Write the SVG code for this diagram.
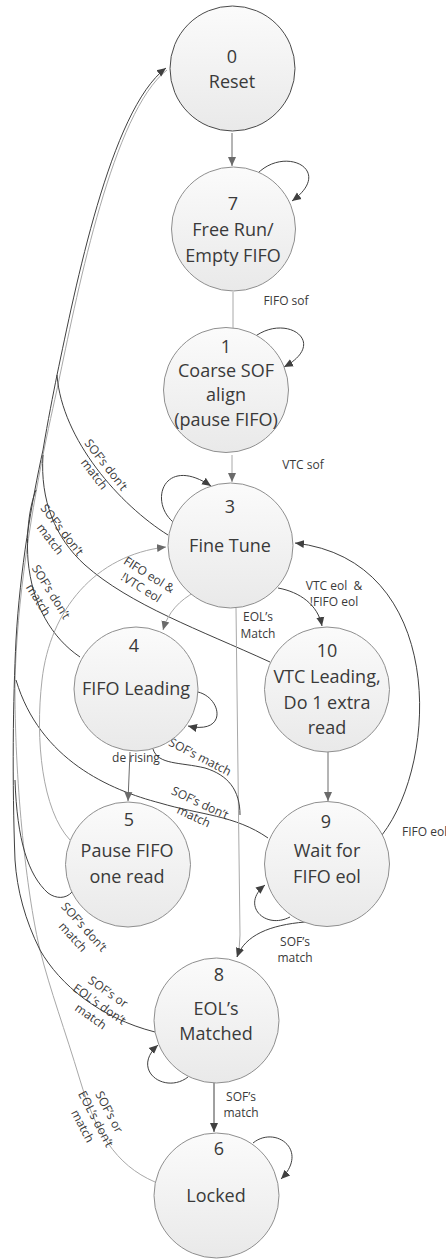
<svg xmlns="http://www.w3.org/2000/svg" width="446" height="1259" viewBox="0 0 446 1259">
<defs>
<linearGradient id="nodeFill" x1="0" y1="0" x2="0" y2="1">
<stop offset="0" stop-color="#fbfbfb"/>
<stop offset="1" stop-color="#e9e9e9"/>
</linearGradient>
<marker id="arr" markerWidth="10" markerHeight="10" refX="9" refY="5" orient="auto" markerUnits="userSpaceOnUse">
<path d="M0,1 L9,5 L0,9 Z" fill="#404040"/>
</marker>
<marker id="arrL" markerWidth="10" markerHeight="10" refX="9" refY="5" orient="auto" markerUnits="userSpaceOnUse">
<path d="M0,1 L9,5 L0,9 Z" fill="#6a6a6a"/>
</marker>
<style>
.node circle{fill:url(#nodeFill);stroke:#8f8f8f;stroke-width:1}
#n0 circle{stroke:#4a4a4a}
.nt{font-family:"Open Sans","Liberation Sans",sans-serif;font-size:18px;fill:#3a3a3a;text-anchor:middle}
.lb{font-family:"Open Sans","Liberation Sans",sans-serif;font-size:12px;fill:#3a3a3a;text-anchor:middle}
.d{fill:none;stroke:#404040;stroke-width:1}
.l{fill:none;stroke:#a8a8a8;stroke-width:1}
.m{fill:none;stroke:#6a6a6a;stroke-width:1}
</style>
</defs>

<g id="connectors">
<!-- light long curve from node 6 to node 0 -->
<path class="l" d="M155,1182 C115,1165 95,1130 80,1080 C65,1030 50,990 40,950 C28,900 16,800 15,700 C14,620 30,520 44,450 C50,420 56,395 60,375 C78,290 113,112 167,70"/>
<!-- dark trunk to node 0 -->
<path class="d" d="M15,860 C12,780 13,700 16,640 C20,570 32,500 43,450 C48,420 53,395 57,375 C75,290 110,110 166,68" marker-end="url(#arr)"/>
<!-- 3 -> 0 -->
<path class="d" d="M168,535 C120,505 62,440 57,375"/>
<!-- 10 -> 0 -->
<path class="d" d="M270,662 C200,630 130,605 85,565 C55,538 40,500 43,455"/>
<!-- 4 -> 0 -->
<path class="d" d="M80,657 C52,638 32,605 28,560 C26,530 30,505 36,490"/>
<!-- 9 -> 0 -->
<path class="d" d="M268,838 C235,815 200,815 160,803 C110,790 40,760 16,680"/>
<!-- 5 -> 0 -->
<path class="d" d="M72,892 C66,899 56,899 48,893 C28,875 17,840 15,780"/>
<!-- 8 -> 0 -->
<path class="d" d="M155,1032 C100,1018 60,985 40,950 C25,920 17,890 15,860"/>
<!-- 5 -> 3 -->
<path class="l" d="M70,840 C42,810 35,740 42,680 C50,610 95,555 166,547" marker-end="url(#arrL)"/>
<!-- 0 -> 7 -->
<path class="m" d="M232,133 L232,166" marker-end="url(#arrL)"/>
<!-- 7 self -->
<path class="d" d="M257,174 C285,145 335,170 292,201" marker-end="url(#arr)"/>
<!-- 7 -> 1 -->
<path class="l" d="M233,292 L233,332"/>
<!-- 1 self -->
<path class="d" d="M253,338 C285,312 330,342 284,367" marker-end="url(#arr)"/>
<!-- 1 -> 3 -->
<path class="l" d="M232,455 L232,482" marker-end="url(#arrL)"/>
<!-- 3 self -->
<path class="d" d="M173,522 C148,500 165,455 211,486" marker-end="url(#arr)"/>
<!-- 3 -> 4 -->
<path class="l" d="M195,592 C180,600 168,612 163,630" marker-end="url(#arrL)"/>
<!-- 3 -> 10 -->
<path class="d" d="M278,588 C300,592 318,605 322,626" marker-end="url(#arr)"/>
<!-- 3 -> 8 EOL's Match -->
<path class="l" d="M236,608 L240,935 Q240,948 237,957" marker-end="url(#arrL)"/>
<!-- 4 self -->
<path class="d" d="M198,692 C222,698 228,735 188,726" marker-end="url(#arr)"/>
<!-- 4 -> 5 -->
<path class="m" d="M130,752 L128,801" marker-end="url(#arrL)"/>
<!-- 4 -> 8 SOF's match -->
<path class="d" d="M153,749 C158,765 180,762 205,768 C228,775 240,790 240,815"/>
<!-- 10 -> 9 -->
<path class="m" d="M328,752 L328,801" stroke-width="1.5" marker-end="url(#arrL)"/>
<!-- 9 -> 3 FIFO eol -->
<path class="d" d="M382,835 C440,760 445,560 295,543" marker-end="url(#arr)"/>
<!-- 9 self -->
<path class="d" d="M290,917 C265,930 240,905 265,885" marker-end="url(#arr)"/>
<!-- 9 -> 8 -->
<path class="d" d="M305,922 C270,925 245,935 237,957" marker-end="url(#arr)"/>
<!-- 8 self -->
<path class="d" d="M188,1077 C165,1095 130,1070 158,1045" marker-end="url(#arr)"/>
<!-- 8 -> 6 -->
<path class="d" d="M214,1083 L214,1132" marker-end="url(#arr)"/>
<!-- 6 self -->
<path class="d" d="M253,1143 C275,1125 310,1150 281,1179" marker-end="url(#arr)"/>

<!-- labels -->
<text class="lb" x="286" y="305">FIFO sof</text>
<text class="lb" x="303" y="469">VTC sof</text>
<text class="lb" xml:space="preserve"><tspan x="334" y="590">VTC eol  &amp;</tspan><tspan x="334" y="606">!FIFO eol</tspan></text>
<text class="lb"><tspan x="258" y="621">EOL’s</tspan><tspan x="258" y="638">Match</tspan></text>
<text class="lb" x="136" y="762">de rising</text>
<text class="lb" x="402" y="836" style="text-anchor:start">FIFO eol</text>
<text class="lb"><tspan x="295" y="946">SOF’s</tspan><tspan x="295" y="962">match</tspan></text>
<text class="lb"><tspan x="241" y="1101">SOF’s</tspan><tspan x="241" y="1117">match</tspan></text>
<text class="lb" transform="translate(149,575) rotate(32)"><tspan x="0" y="4">FIFO eol &amp;</tspan><tspan x="0" y="19">!VTC eol</tspan></text>
<text class="lb" transform="translate(200,757) rotate(27)"><tspan x="0" y="4">SOF’s match</tspan></text>
<text class="lb" transform="translate(106,465) rotate(52)"><tspan x="0" y="4">SOF’s don’t</tspan><tspan x="0" y="19">match</tspan></text>
<text class="lb" transform="translate(62,530) rotate(52)"><tspan x="0" y="4">SOF’s don’t</tspan><tspan x="0" y="19">match</tspan></text>
<text class="lb" transform="translate(51,592) rotate(58)"><tspan x="0" y="4">SOF’s don’t</tspan><tspan x="0" y="19">match</tspan></text>
<text class="lb" transform="translate(200,803) rotate(25)"><tspan x="0" y="4">SOF’s don’t</tspan><tspan x="0" y="19">match</tspan></text>
<text class="lb" transform="translate(84,927) rotate(48)"><tspan x="0" y="4">SOF’s don’t</tspan><tspan x="0" y="19">match</tspan></text>
<text class="lb" transform="translate(108,992) rotate(35)"><tspan x="0" y="4">SOF’s or</tspan><tspan x="0" y="19">EOL’s don’t</tspan><tspan x="0" y="34">match</tspan></text>
<text class="lb" transform="translate(109,1112) rotate(62)"><tspan x="0" y="4">SOF’s or</tspan><tspan x="0" y="19">EOL’s don’t</tspan><tspan x="0" y="34">match</tspan></text>
</g>

<g id="n0" class="node"><circle cx="232.5" cy="68.5" r="62.5"/><text class="nt"><tspan x="232" y="63">0</tspan><tspan x="232" y="88">Reset</tspan></text></g>
<g id="n7" class="node"><circle cx="233.5" cy="229" r="62"/><text class="nt"><tspan x="233" y="210">7</tspan><tspan x="233" y="236">Free Run/</tspan><tspan x="233" y="262">Empty FIFO</tspan></text></g>
<g id="n1" class="node"><circle cx="226" cy="390" r="62.5"/><text class="nt"><tspan x="226" y="353">1</tspan><tspan x="226" y="377">Coarse SOF</tspan><tspan x="226" y="401">align</tspan><tspan x="226" y="426">(pause FIFO)</tspan></text></g>
<g id="n3" class="node"><circle cx="230.5" cy="545.5" r="62.5"/><text class="nt"><tspan x="230" y="513">3</tspan><tspan x="230" y="552">Fine Tune</tspan></text></g>
<g id="n4" class="node"><circle cx="136" cy="689" r="62"/><text class="nt"><tspan x="134" y="652">4</tspan><tspan x="136" y="695">FIFO Leading</tspan></text></g>
<g id="n10" class="node"><circle cx="327" cy="689.5" r="62.5"/><text class="nt"><tspan x="327" y="657">10</tspan><tspan x="327" y="683">VTC Leading,</tspan><tspan x="327" y="709">Do 1 extra</tspan><tspan x="327" y="734">read</tspan></text></g>
<g id="n5" class="node"><circle cx="128" cy="864.5" r="62.5"/><text class="nt"><tspan x="129" y="826">5</tspan><tspan x="127" y="857">Pause FIFO</tspan><tspan x="127" y="883">one read</tspan></text></g>
<g id="n9" class="node"><circle cx="327" cy="864" r="62.5"/><text class="nt"><tspan x="326" y="828">9</tspan><tspan x="327" y="857">Wait for</tspan><tspan x="327" y="883">FIFO eol</tspan></text></g>
<g id="n8" class="node"><circle cx="216.5" cy="1020.5" r="62.5"/><text class="nt"><tspan x="219" y="981">8</tspan><tspan x="216" y="1015">EOL’s</tspan><tspan x="216" y="1040">Matched</tspan></text></g>
<g id="n6" class="node"><circle cx="216.5" cy="1195.5" r="62.5"/><text class="nt"><tspan x="219" y="1155">6</tspan><tspan x="216" y="1202">Locked</tspan></text></g>
</svg>
